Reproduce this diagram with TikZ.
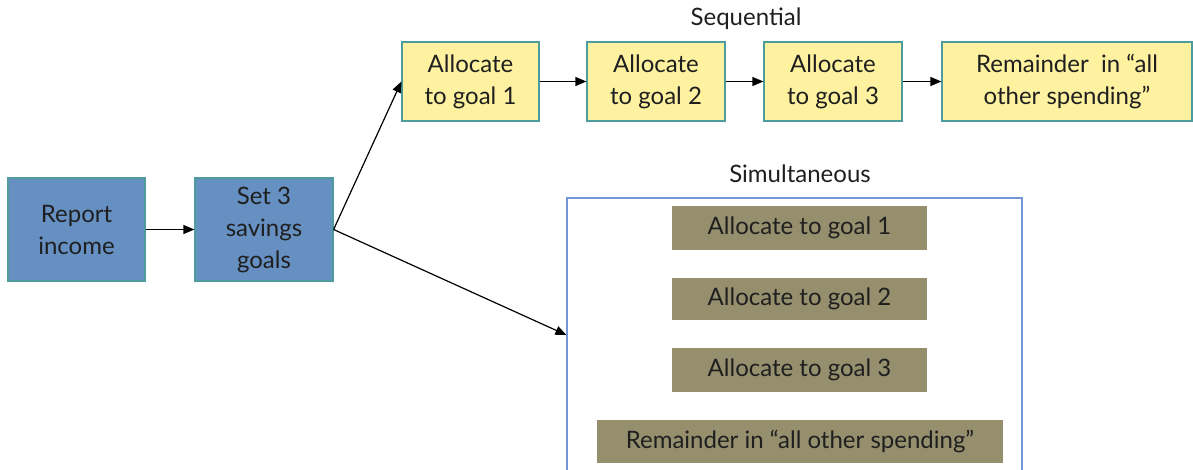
\documentclass[tikz,border=0pt]{standalone}
\usepackage{fontspec}
\setmainfont{Lato}
\usetikzlibrary{arrows.meta}
\definecolor{stepblue}{HTML}{6690C2}
\definecolor{stepedge}{HTML}{4E9C9E}
\definecolor{seqyellow}{HTML}{FEF2A0}
\definecolor{simolive}{HTML}{958F6E}
\definecolor{frameblue}{HTML}{7396D6}
\tikzset{
  flow/.style={-{Triangle[length=5.5pt,width=4.5pt]},line width=0.6pt,black},
  bluebox/.style={draw=stepedge,line width=0.6pt,fill=stepblue,minimum height=51.5pt,align=center},
  yellowbox/.style={draw=stepedge,line width=0.6pt,fill=seqyellow,minimum height=39.5pt,align=center},
  olivebox/.style={fill=simolive,minimum width=127.5pt,align=center},
  title/.style={font=\fontsize{12}{16}\selectfont}
}
\begin{document}
\begin{tikzpicture}[x=0.5pt,y=-0.5pt,every node/.style={font=\fontsize{12}{16}\selectfont,text=black!88,inner sep=0pt}]
  \useasboundingbox (0,0) rectangle (1193,470);
  \clip (0,0) rectangle (1193,470);
  % first two steps
  \node[bluebox,minimum width=68.5pt] (report) at (76.5,229.5) {Report\\income};
  \node[bluebox,minimum width=69pt] (goals) at (264,229.5) {Set 3\\savings\\goals};
  % sequential row
  \node[title] (seqlabel) at (746,19) {Sequential};
  \node[yellowbox,minimum width=68.5pt] (seqa) at (470.5,81.5) {Allocate\\to goal 1};
  \node[yellowbox,minimum width=69pt] (seqb) at (656,81.5) {Allocate\\to goal 2};
  \node[yellowbox,minimum width=69pt] (seqc) at (833,81.5) {Allocate\\to goal 3};
  \node[yellowbox,minimum width=125pt] (seqd) at (1067,81.5) {Remainder\ \ in ``all\\other spending''};
  % simultaneous frame
  \node[title] (simlabel) at (800,174) {Simultaneous};
  \node[draw=frameblue,line width=0.6pt,minimum width=227.5pt,minimum height=137pt] (frame) at (794.5,335) {};
  \node[olivebox,minimum height=22pt] (sima) at (799.5,228) {Allocate to goal 1};
  \node[olivebox,minimum height=21pt] (simb) at (799.5,299) {Allocate to goal 2};
  \node[olivebox,minimum height=22pt] (simc) at (799.5,370) {Allocate to goal 3};
  \node[olivebox,minimum width=203pt,minimum height=21.5pt] (simd) at (800,441.5) {Remainder in ``all other spending''};
  % connectors
  \draw[flow] (report) -- (goals);
  \draw[flow] (goals.east) -- (seqa.west);
  \draw[flow] (goals.east) -- (frame.west);
  \draw[flow] (seqa) -- (seqb);
  \draw[flow] (seqb) -- (seqc);
  \draw[flow] (seqc) -- (seqd);
\end{tikzpicture}
\end{document}
